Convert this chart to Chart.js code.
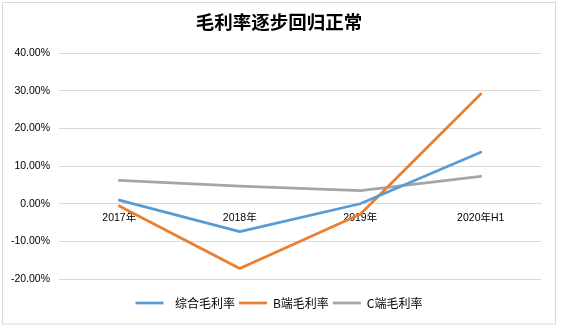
<!DOCTYPE html>
<html>
<head>
<meta charset="utf-8">
<script src="https://cdn.jsdelivr.net/npm/chart.js@4/dist/chart.umd.min.js"></script>
<style>
  html, body { margin: 0; padding: 0; background: #ffffff; }
  #wrap { width: 581px; height: 329px; }
</style>
</head>
<body>
<div id="wrap"><canvas id="c" width="581" height="329"></canvas></div>
<script>
// Categories and margin series (percent)
const categories = ['2017年', '2018年', '2019年', '2020年H1'];
const overallMargin = [0.95, -7.4, 0.0, 13.7];
const bSideMargin = [-0.6, -17.2, -2.8, 29.2];
const cSideMargin = [6.2, 4.7, 3.5, 7.3];
const seriesNames = ['  综合毛利率', 'B端毛利率', 'C端毛利率'];
const seriesColors = ['#5B9BD5', '#ED7D31', '#A5A5A5'];

const tickFont = { family: "'Liberation Sans', 'Noto Sans CJK SC', sans-serif", size: 10.5 };

// Light frame around the whole chart
const framePlugin = {
  id: 'frame',
  afterDraw(chart) {
    const ctx = chart.ctx;
    ctx.save();
    ctx.strokeStyle = '#D9D9D9';
    ctx.lineWidth = 1;
    ctx.strokeRect(2.5, 2.5, 553, 321.5);
    ctx.restore();
  }
};

const makeSet = (i, values) => ({
  label: seriesNames[i],
  data: values,
  borderColor: seriesColors[i],
  backgroundColor: seriesColors[i],
  borderWidth: 2.75,
  pointRadius: 0,
  pointHoverRadius: 0,
  tension: 0,
  borderJoinStyle: 'round',
  borderCapStyle: 'round'
});

new Chart(document.getElementById('c'), {
  type: 'line',
  data: {
    labels: categories,
    datasets: [
      makeSet(0, overallMargin),
      makeSet(1, bSideMargin),
      makeSet(2, cSideMargin)
    ]
  },
  options: {
    responsive: false,
    animation: false,
    devicePixelRatio: 1,
    layout: { padding: { left: 0, right: 23, top: 0, bottom: 10 } },
    plugins: {
      title: {
        display: true,
        text: '毛利率逐步回归正常',
        color: '#000000',
        font: { family: "'Noto Sans CJK SC', sans-serif", size: 18.5, weight: 'bold', lineHeight: 1.2 },
        padding: { top: 10.6, bottom: 20.5 }
      },
      legend: {
        position: 'bottom',
        title: { display: true, text: '', font: { size: 10, lineHeight: 1.2 }, padding: { top: 2, bottom: 0 } },
        labels: {
          usePointStyle: true,
          pointStyle: 'line',
          pointStyleWidth: 28,
          color: '#000000',
          padding: 4,
          font: { family: "'Noto Sans CJK SC', sans-serif", size: 12 }
        }
      },
      tooltip: { enabled: false }
    },
    scales: {
      x: {
        position: { y: 0 },
        offset: true,
        grid: { display: false, drawTicks: false },
        border: { display: true, color: '#D9D9D9', width: 1 },
        ticks: { color: '#000000', font: tickFont, padding: 8, maxRotation: 0 }
      },
      y: {
        min: -20,
        max: 40,
        afterFit(scale) { scale.width = 59; },
        grid: { color: '#D9D9D9', lineWidth: 1, drawTicks: false },
        border: { display: false },
        ticks: {
          stepSize: 10,
          color: '#000000',
          font: tickFont,
          padding: 9,
          callback: v => v.toFixed(2) + '%'
        }
      },
      // blank right-hand margin inside the frame
      yRight: {
        position: 'right',
        min: -20,
        max: 40,
        afterFit(scale) { scale.width = 17; },
        grid: { display: false, drawTicks: false },
        border: { display: false },
        ticks: { display: false }
      }
    }
  },
  plugins: [framePlugin]
});
</script>
</body>
</html>
